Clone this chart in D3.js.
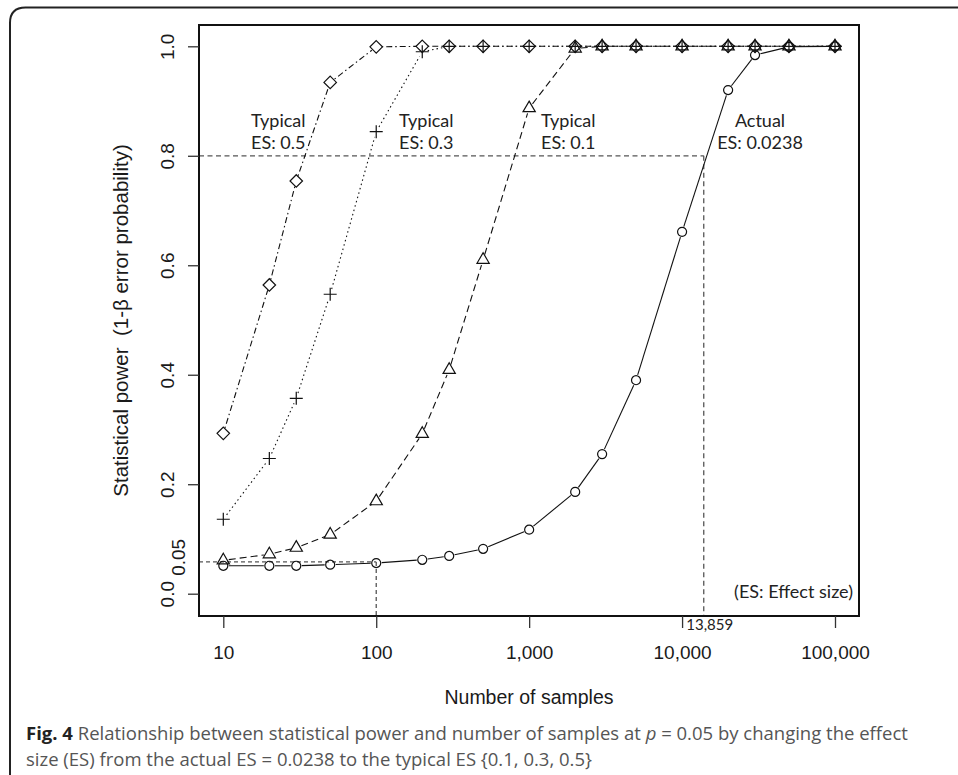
<!DOCTYPE html>
<html>
<head>
<meta charset="utf-8">
<script src="https://cdn.jsdelivr.net/npm/d3@7.9.0/dist/d3.min.js"></script>
<style>
  body { margin: 0; background: #fff; }
  svg { display: block; }
  .r-text { font-family: "Liberation Sans", Arial, sans-serif; fill: #1a1a1a; white-space: pre; }
  .note { font-family: Lato, "Open Sans", sans-serif; fill: #222; }
  .caption { font-family: "Open Sans", sans-serif; font-size: 18.5px; fill: #555; }
</style>
</head>
<body>
<svg id="chart" width="958" height="775"></svg>
<script>
// sample sizes on the x axis (log scale)
const sampleSizes = [10, 20, 30, 50, 100, 200, 300, 500, 1000, 2000, 3000, 5000, 10000, 20000, 30000, 50000, 100000];

// statistical power, one array per effect size
const powerActual = [0.051, 0.051, 0.051, 0.053, 0.056, 0.062, 0.069, 0.082, 0.117, 0.186, 0.255, 0.390, 0.661, 0.920, 0.984, 0.999, 1.0];
const powerES01 = [0.061, 0.072, 0.084, 0.108, 0.169, 0.292, 0.409, 0.610, 0.887, 0.996, 1.0, 1.0, 1.0, 1.0, 1.0, 1.0, 1.0];
const powerES03 = [0.136, 0.247, 0.357, 0.547, 0.844, 0.990, 1.0, 1.0, 1.0, 1.0, 1.0, 1.0, 1.0, 1.0, 1.0, 1.0, 1.0];
const powerES05 = [0.293, 0.564, 0.754, 0.934, 0.999, 1.0, 1.0, 1.0, 1.0, 1.0, 1.0, 1.0, 1.0, 1.0, 1.0, 1.0, 1.0];

const xTicks = [10, 100, 1000, 10000, 100000];
const yTicks = [0, 0.2, 0.4, 0.6, 0.8, 1.0];

// reference lines
const targetPower = 0.8;
const requiredN = 13859;
const lowPower = 0.058;
const lowN = 100;

const noteLines = [["Typical", "ES: 0.5"], ["Typical", "ES: 0.3"], ["Typical", "ES: 0.1"], ["Actual", "ES: 0.0238"]];

const svg = d3.select("#chart");
const W = 958, H = 775;
const box = { left: 199, right: 859, top: 25, bottom: 616 };

svg.append("rect").attr("width", W).attr("height", H).attr("fill", "#fff");

// outer figure frame (only top and left visible)
svg.append("path")
  .attr("d", `M10,${H} L10,23 Q10,7.5 25.5,7.5 L${W},7.5`)
  .attr("fill", "none").attr("stroke", "#222").attr("stroke-width", 2);

const x = d3.scaleLog().domain([10, 100000]).range([223.3, 835]);
const y = d3.scaleLinear().domain([0, 1]).range([593.7, 46.3]);

// open symbols like R's pch 1, 2, 3, 5
const openCircle = d3.symbolCircle;
const openTriangle = {
  draw(ctx, size) {
    const s = Math.sqrt(size), h = s * Math.sqrt(3) / 2;
    ctx.moveTo(0, -h * 2 / 3);
    ctx.lineTo(s / 2, h / 3);
    ctx.lineTo(-s / 2, h / 3);
    ctx.closePath();
  }
};
const plusSign = {
  draw(ctx, size) {
    const r = Math.sqrt(size) / 2;
    ctx.moveTo(-r, 0); ctx.lineTo(r, 0);
    ctx.moveTo(0, -r); ctx.lineTo(0, r);
  }
};
const openDiamond = {
  draw(ctx, size) {
    const r = Math.sqrt(size) / 2;
    ctx.moveTo(0, -r); ctx.lineTo(r, 0); ctx.lineTo(0, r); ctx.lineTo(-r, 0);
    ctx.closePath();
  }
};

const series = [
  { values: powerActual, dash: null, symbol: openCircle, size: 64 },
  { values: powerES01, dash: "7,4", symbol: openTriangle, size: 150 },
  { values: powerES03, dash: "1.5,3", symbol: plusSign, size: 169 },
  { values: powerES05, dash: "1.5,3,6,3", symbol: openDiamond, size: 156 }
];

// reference dashed lines
const refs = svg.append("g").attr("stroke", "#555").attr("stroke-width", 1.3).attr("fill", "none");
refs.append("line")
  .attr("x1", box.left).attr("x2", x(requiredN))
  .attr("y1", y(targetPower)).attr("y2", y(targetPower))
  .attr("stroke-dasharray", "5,3.5");
refs.append("line")
  .attr("x1", x(requiredN)).attr("x2", x(requiredN))
  .attr("y1", y(targetPower)).attr("y2", box.bottom)
  .attr("stroke-dasharray", "5,3.5");
refs.append("line")
  .attr("x1", box.left).attr("x2", x(lowN))
  .attr("y1", y(lowPower)).attr("y2", y(lowPower))
  .attr("stroke-dasharray", "4,3");
refs.append("line")
  .attr("x1", x(lowN)).attr("x2", x(lowN))
  .attr("y1", y(lowPower)).attr("y2", box.bottom)
  .attr("stroke-dasharray", "4,3");

// lines with gaps at the points (R type = "b")
const gap = 5.5;
series.forEach(s => {
  const pts = sampleSizes.map((n, i) => [x(n), y(s.values[i])]);
  const segs = [];
  for (let i = 0; i < pts.length - 1; i++) {
    const [x1, y1] = pts[i], [x2, y2] = pts[i + 1];
    const len = Math.hypot(x2 - x1, y2 - y1);
    if (len <= 2 * gap) continue;
    const ux = (x2 - x1) / len, uy = (y2 - y1) / len;
    segs.push([[x1 + ux * gap, y1 + uy * gap], [x2 - ux * gap, y2 - uy * gap]]);
  }
  svg.append("g")
    .selectAll("path")
    .data(segs)
    .join("path")
    .attr("d", d => d3.line()(d))
    .attr("fill", "none")
    .attr("stroke", "#111")
    .attr("stroke-width", 1.1)
    .attr("stroke-dasharray", s.dash);

  svg.append("g")
    .selectAll("path")
    .data(pts)
    .join("path")
    .attr("transform", d => `translate(${d[0]},${d[1]})`)
    .attr("d", d3.symbol().type(s.symbol).size(s.size))
    .attr("fill", "none")
    .attr("stroke", "#111")
    .attr("stroke-width", 1.2);
});

// plot box
svg.append("rect")
  .attr("x", box.left).attr("y", box.top)
  .attr("width", box.right - box.left).attr("height", box.bottom - box.top)
  .attr("fill", "none").attr("stroke", "#111").attr("stroke-width", 2);

// x axis
const xAxis = svg.append("g")
  .attr("transform", `translate(0,${box.bottom})`)
  .call(d3.axisBottom(x).tickValues(xTicks).tickSize(12).tickPadding(18).tickFormat(d3.format(",")));
xAxis.select(".domain").remove();
xAxis.selectAll(".tick line").attr("stroke", "#333").attr("stroke-width", 1.3);
xAxis.selectAll(".tick text").attr("class", "r-text").attr("font-size", 19);

// y axis, labels parallel to axis
const yAxis = svg.append("g")
  .attr("transform", `translate(${box.left},0)`)
  .call(d3.axisLeft(y).tickValues(yTicks).tickSize(11).tickFormat(d3.format(".1f")));
yAxis.select(".domain").remove();
yAxis.selectAll(".tick line").attr("stroke", "#333").attr("stroke-width", 1.3);
yAxis.selectAll(".tick text")
  .attr("class", "r-text")
  .attr("font-size", 19)
  .attr("x", null).attr("dy", null)
  .attr("text-anchor", "middle")
  .attr("transform", "translate(-25,0) rotate(-90)");

svg.append("text")
  .attr("class", "r-text")
  .attr("font-size", 19)
  .attr("text-anchor", "middle")
  .attr("transform", `translate(${box.left - 14},${y(0.05) - 9}) rotate(-90)`)
  .text("0.05");

// axis titles
svg.append("text")
  .attr("class", "r-text")
  .attr("font-size", 19.5)
  .attr("text-anchor", "middle")
  .attr("x", (box.left + box.right) / 2).attr("y", 704)
  .text("Number of samples");

svg.append("text")
  .attr("class", "r-text")
  .attr("font-size", 20.5)
  .attr("text-anchor", "middle")
  .attr("transform", `translate(128,${(box.top + box.bottom) / 2}) rotate(-90)`)
  .text("Statistical power  (1-\u03b2 error probability)");

// annotations
const notePos = [
  { x: 251, anchor: "start" },
  { x: 399, anchor: "start" },
  { x: 541, anchor: "start" },
  { x: 760, anchor: "middle" }
];
noteLines.forEach((lines, i) => {
  lines.forEach((t, j) => {
    svg.append("text")
      .attr("class", "note")
      .attr("font-size", 18)
      .attr("text-anchor", notePos[i].anchor)
      .attr("x", notePos[i].x).attr("y", 127 + j * 21.5)
      .text(t);
  });
});

svg.append("text")
  .attr("class", "note")
  .attr("font-size", 15)
  .attr("text-anchor", "middle")
  .attr("x", x(requiredN) + 6).attr("y", 630)
  .text(d3.format(",")(requiredN));

svg.append("text")
  .attr("class", "note")
  .attr("font-size", 18)
  .attr("text-anchor", "end")
  .attr("x", 853).attr("y", 598)
  .text("(ES: Effect size)");

// caption
const cap1 = svg.append("text").attr("class", "caption").attr("x", 26).attr("y", 740);
cap1.append("tspan").attr("font-weight", "bold").attr("fill", "#222").text("Fig. 4");
cap1.append("tspan").text(" Relationship between statistical power and number of samples at ");
cap1.append("tspan").attr("font-style", "italic").text("p");
cap1.append("tspan").text(" = 0.05 by changing the effect");

svg.append("text").attr("class", "caption").attr("x", 26).attr("y", 766)
  .text("size (ES) from the actual ES = 0.0238 to the typical ES {0.1, 0.3, 0.5}");
</script>
</body>
</html>
